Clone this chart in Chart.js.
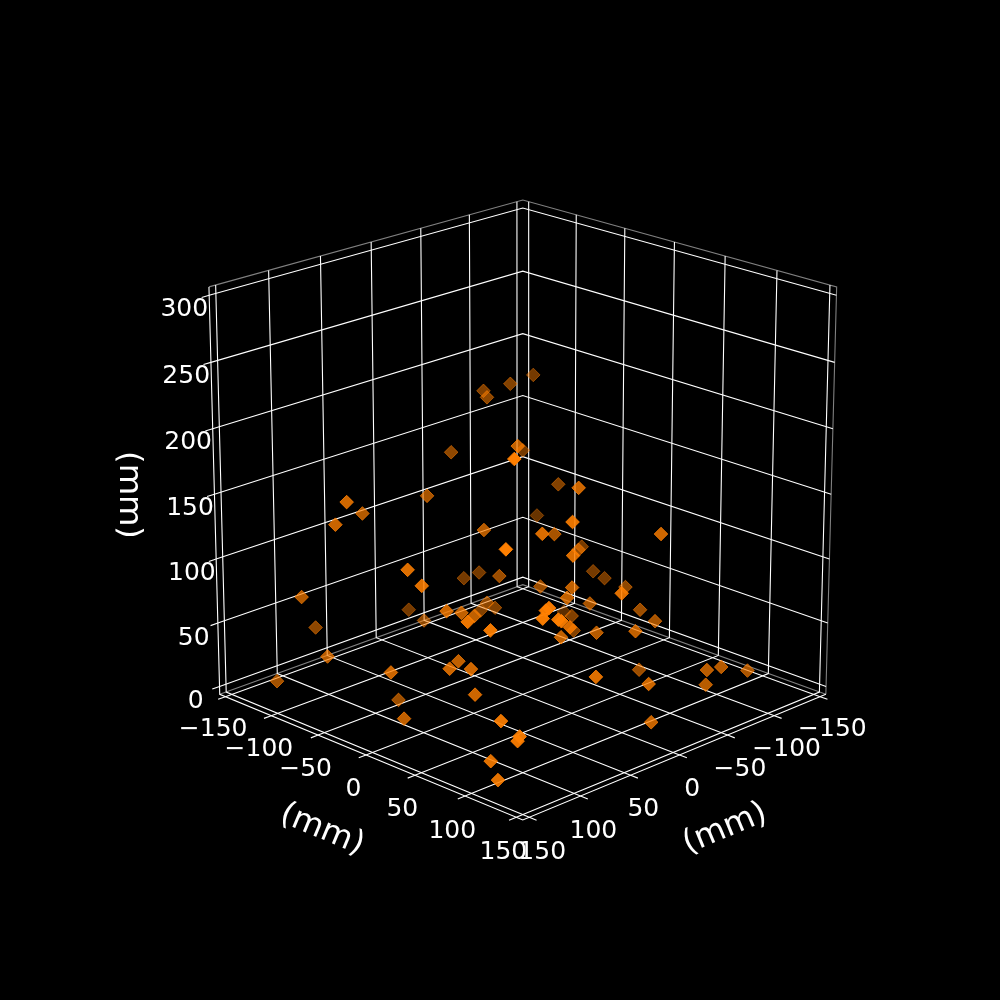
<!DOCTYPE html>
<html>
<head>
<meta charset="utf-8">
<script src="https://cdn.jsdelivr.net/npm/chart.js@4/dist/chart.umd.min.js"></script>
<style>
  html, body { margin: 0; background: #000; }
  canvas { display: block; }
</style>
</head>
<body>
<canvas id="chart" width="1000" height="1000"></canvas>
<script>
// in mm
const xValues = [-104,-71,-56,-37,-9,33,-85,133,49,-78,29,-100,77,45,74,-9,150,-99,-38,63,150,150,-31,-40,7,4,35,115,89,150,83,-15,-1,-23,150,99,123,113,-100,-105,-12,30,54,-75,34,-15,-59,-45,125,128,131,116,113,-116,-62,76,-60,44,6,6,-48,79,26,150,150,103,148,92,145,150,150,83,136,115,150,150,150,150,150,23,-33,-34,-49,-77,-3];
const yValues = [-93,-84,-97,-74,-83,28,-85,125,-48,-41,84,-85,125,6,93,23,134,-37,19,112,38,52,-93,-86,-17,-116,-67,40,28,97,35,-59,-38,-52,119,35,51,62,-26,-19,6,79,150,31,78,53,61,89,150,150,150,150,150,-72,-11,122,-7,82,80,118,71,150,150,-23,-35,-58,-74,-122,-51,-100,20,-44,18,68,129,145,147,119,126,150,150,150,150,150,133];
const zValues = [194,197,192,197,159,202,141,242,149,127,184,85,182,136,164,123,184,73,102,150,143,135,51,55,84,29,43,103,91,121,89,39,55,41,121,59,65,65,56,51,77,108,130,66,101,76,61,64,139,138,133,128,126,6,35,103,25,75,67,79,20,75,54,177,157,147,91,38,51,19,61,1,21,48,57,47,51,24,12,24,36,47,45,34,154];

const xTicks = [-150, -100, -50, 0, 50, 100, 150];
const yTicks = [-150, -100, -50, 0, 50, 100, 150];
const zTicks = [0, 50, 100, 150, 200, 250, 300];
const axisTitle = '(mm)';

// camera, fitted to the box corners
const ELEV = 20 * Math.PI / 180;
const CE = Math.cos(ELEV);
const SE = Math.sin(ELEV);
const DIST = 19.4;
const FOCAL = 4230;
const CENTER_X = 522.8;
const CENTER_Y = 494.2;
const H = 156.25;
const Z_BOTTOM = -6.25;
const Z_TOP = 306.25;

const project = (x, y, z) => {
  const p = y / H;
  const q = x / H;
  const r = (z - 150) / H * 0.994;
  const f = (p + q) / Math.SQRT2;
  const s = (p - q) / Math.SQRT2;
  const v = r * CE - f * SE;
  const w = f * CE + r * SE;
  const k = FOCAL / (DIST - w);

  return { x: k * s, y: k * v, depth: w };
};

const line = (points, color) => ({
  type: 'scatter',
  showLine: true,
  order: 2,
  data: points.map((point) => project(...point)),
  borderColor: color,
  borderWidth: 1.1,
  pointRadius: 0,
  pointHoverRadius: 0,
  fill: false,
  clip: false,
});

const WHITE = '#ffffff';
const EDGE = 'rgba(255,255,255,0.5)';
const lines = [];

zTicks.forEach((t) => {
  lines.push(line([[H + 7, -H, t], [H, -H, t], [-H, -H, t], [-H, H, t]], WHITE));
});
xTicks.forEach((t) => {
  lines.push(line([[t, H + 7, Z_BOTTOM], [t, H, Z_BOTTOM], [t, -H, Z_BOTTOM], [t, -H, Z_TOP]], WHITE));
});
yTicks.forEach((t) => {
  lines.push(line([[H + 7, t, Z_BOTTOM], [H, t, Z_BOTTOM], [-H, t, Z_BOTTOM], [-H, t, Z_TOP]], WHITE));
});

// box edges
lines.push(line([[H, -H, Z_TOP], [-H, -H, Z_TOP], [-H, H, Z_TOP], [-H, H, Z_BOTTOM]], EDGE));
lines.push(line([[H, -H, Z_BOTTOM], [-H, -H, Z_BOTTOM], [-H, H, Z_BOTTOM]], EDGE));
lines.push(line([[H, -H, Z_TOP], [H, -H, Z_BOTTOM], [H, H, Z_BOTTOM], [-H, H, Z_BOTTOM]], WHITE));

// far points first, nearer ones brighter
const markers = xValues
  .map((x, i) => project(x, yValues[i], zValues[i]))
  .sort((a, b) => a.depth - b.depth);
const nearest = markers[markers.length - 1].depth;
const farthest = markers[0].depth;
const markerColors = markers.map((m) => {
  const alpha = 0.36 + 0.64 * (m.depth - farthest) / (nearest - farthest);

  return `rgba(255,127,0,${alpha.toFixed(3)})`;
});

const labelPlugin = {
  id: 'labels3d',
  afterDatasetsDraw(chart) {
    const { ctx, scales } = chart;
    const text = (value, position, dx = 0, dy = 0) => {
      ctx.fillText(String(value).replace('-', '\u2212'),
        scales.x.getPixelForValue(position.x) + dx,
        scales.y.getPixelForValue(position.y) + dy);
    };
    const title = (px, py, angle) => {
      ctx.save();
      ctx.translate(px, py);
      ctx.rotate(angle * Math.PI / 180);
      ctx.fillText(axisTitle, 0, 0);
      ctx.restore();
    };

    ctx.save();
    ctx.fillStyle = WHITE;
    ctx.textAlign = 'center';
    ctx.textBaseline = 'middle';

    ctx.font = '25px "DejaVu Sans"';
    xTicks.forEach((t) => text(t, project(t, H + 13.4, Z_BOTTOM - 19.6), -1, 3.5));
    yTicks.forEach((t) => text(t, project(H + 13.4, t, Z_BOTTOM - 19.6), 1, 3.5));
    zTicks.forEach((t) => text(t, project(H + 25, -H, t - 2), 2, 3.5));

    ctx.font = '32.2px "DejaVu Sans"';
    title(322, 830, 22.6);
    title(725, 829, -22.6);
    title(128, 495, 90);
    ctx.restore();
  },
};

new Chart(document.getElementById('chart'), {
  type: 'scatter',
  data: {
    datasets: [
      {
        order: 1,
        data: markers,
        pointStyle: 'rectRot',
        pointRadius: 6.8,
        pointHoverRadius: 6.8,
        pointBorderWidth: 1,
        pointBackgroundColor: markerColors,
        pointBorderColor: markerColors,
        clip: false,
      },
      ...lines,
    ],
  },
  options: {
    responsive: false,
    animation: false,
    events: [],
    layout: { padding: 0, autoPadding: false },
    plugins: { legend: { display: false }, tooltip: { enabled: false } },
    scales: {
      x: { type: 'linear', display: false, min: -CENTER_X, max: 1000 - CENTER_X },
      y: { type: 'linear', display: false, min: CENTER_Y - 1000, max: CENTER_Y },
    },
  },
  plugins: [labelPlugin],
});
</script>
</body>
</html>
